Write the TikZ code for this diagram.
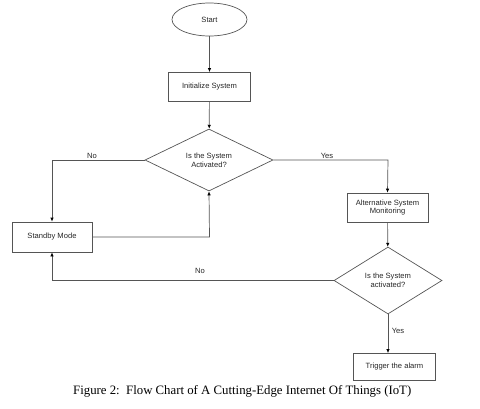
\documentclass[tikz,border=0pt]{standalone}
\usepackage{fontspec}
\setmainfont{Liberation Serif}
\newfontfamily\nodefont{Liberation Sans}
\usetikzlibrary{shapes.geometric,arrows.meta}
\definecolor{linegray}{HTML}{555555}
\tikzset{
  every node/.style={font=\nodefont\fontsize{7.6}{8.6}\selectfont, text=black!85},
  box/.style={draw=linegray, line width=0.7pt, rectangle, minimum width=82pt, minimum height=29pt, align=center, inner sep=1pt},
  startnode/.style={draw=linegray, line width=0.7pt, ellipse, minimum width=75pt, minimum height=33pt},
  decision/.style={draw=linegray, line width=0.7pt, diamond, minimum width=128pt, minimum height=62pt, align=center, inner sep=0pt},
  decision2/.style={draw=linegray, line width=0.7pt, diamond, minimum width=108pt, minimum height=67pt, align=center, inner sep=0pt},
  conn/.style={draw=linegray, line width=0.7pt, -{Latex[length=4pt,width=3.5pt,color=black]}},
  lbl/.style={font=\nodefont\fontsize{7.6}{8.6}\selectfont}
}
\begin{document}
\begin{tikzpicture}[x=1pt,y=-1pt]
\useasboundingbox (0,0) rectangle (480,408);
\node[startnode] (start) at (209.5,19.5) {Start};
\node[box] (init) at (209.5,87) {Initialize System};
\node[decision] (d1) at (209,160) {Is the System\\Activated?};
\node[box, minimum width=80pt, minimum height=30pt] (standby) at (52,237) {Standby Mode};
\node[box, minimum width=81pt] (alt) at (387.5,207.5) {Alternative System\\Monitoring};
\node[decision2] (d2) at (388,280.5) {Is the System\\activated?};
\node[box, minimum height=27pt] (alarm) at (394.5,367) {Trigger the alarm};
\coordinate (c1) at (52,160);
\coordinate (c2) at (209.5,237);
\coordinate (c3) at (388,160);
\coordinate (c4) at (52,280.5);

\draw[conn] (start) -- (init);
\draw[conn] (init) -- (d1);
\draw[conn] (d1.west) -- (c1) -- (standby.north);
\draw[conn] (standby.east) -- (c2) -- (d1.south);
\draw[conn] (d1.east) -- (c3) -- (alt.north);
\draw[conn] (alt) -- (d2);
\draw[conn] (d2.west) -- (c4) -- (standby.south);
\draw[conn] (d2.south) -- (d2.south |- alarm.north);

\node[lbl] (no1) at (92,156) {No};
\node[lbl] (yes1) at (327,156) {Yes};
\node[lbl] (no2) at (200,270.5) {No};
\node[lbl] (yes2) at (398,331) {Yes};

\node[font=\rmfamily\fontsize{12.8}{14}\selectfont, text=black, anchor=west, inner sep=0pt] (cap) at (73,391.5) {Figure 2:\ \ Flow Chart of A Cutting-Edge Internet Of Things (IoT)};
\end{tikzpicture}
\end{document}
